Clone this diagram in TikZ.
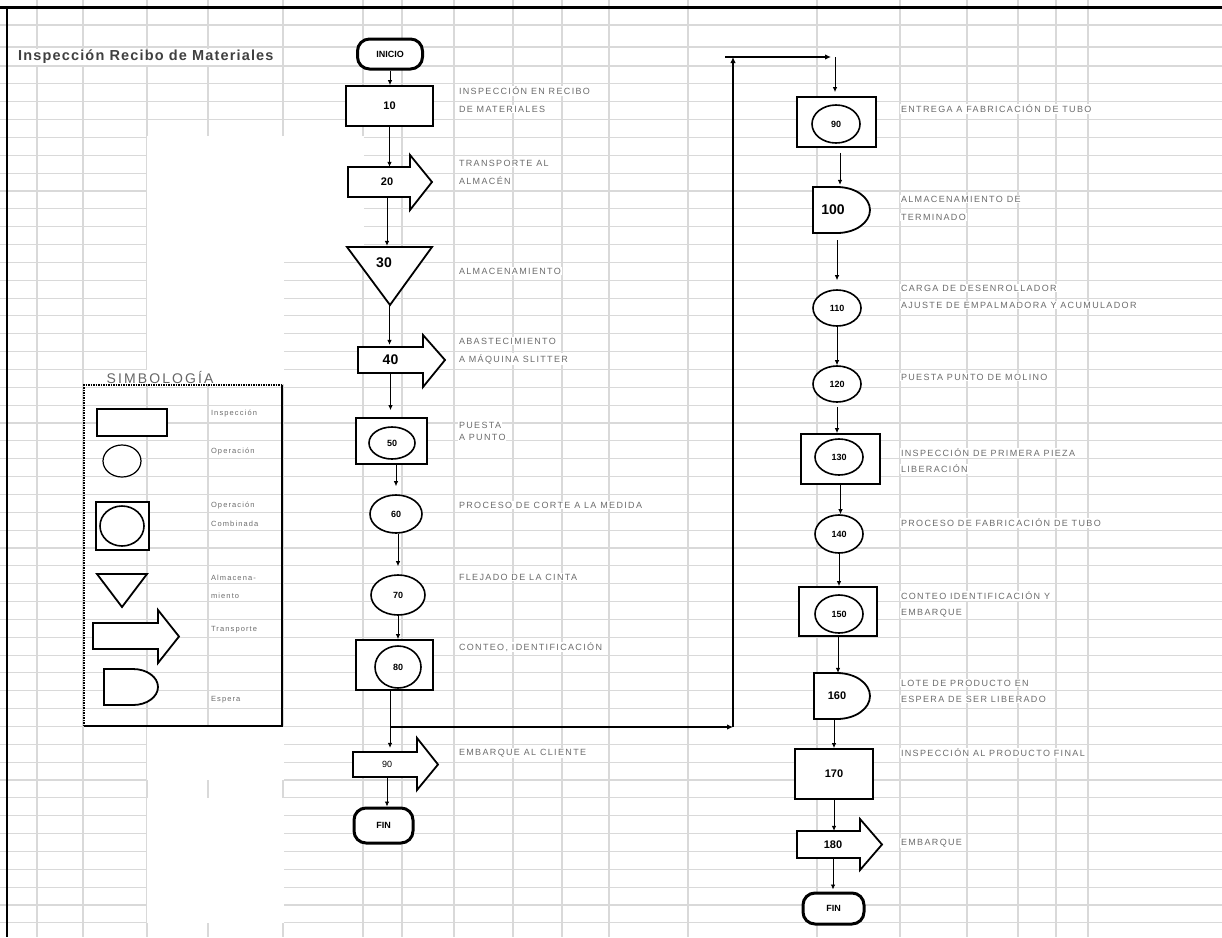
\documentclass[tikz,border=0pt]{standalone}
\usepackage{fontspec}
\setmainfont{Liberation Sans}
\newfontfamily\etiqfont[LetterSpace=15]{Liberation Sans}
\newfontfamily\titfont[LetterSpace=8]{Liberation Sans}
\usetikzlibrary{arrows.meta,shapes.geometric}
\definecolor{gris rejilla}{HTML}{D9D9D9}
\definecolor{gris texto}{HTML}{6C6C6C}
\definecolor{gris titulo}{HTML}{404040}
\begin{document}
\begin{tikzpicture}[x=1pt, y=-1pt,
    linea rejilla/.style={draw=gris rejilla, line width=1.1pt},
    terminal/.style={draw, line width=3pt, fill=white, rounded corners=12pt, inner sep=0pt, font=\bfseries\fontsize{9}{10}\selectfont},
    inspeccion/.style={draw, line width=1.8pt, fill=white, inner sep=0pt},
    operacion/.style={ellipse, draw, line width=1.6pt, fill=white, inner sep=0pt},
    combinada/.style={draw, line width=1.8pt, fill=white, inner sep=0pt},
    contorno/.style={draw, line width=1.8pt, fill=white, line join=miter},
    hueco/.style={inner sep=0pt},
    numg/.style={font=\bfseries\fontsize{14}{15}\selectfont},
    numm/.style={font=\bfseries\fontsize{11}{12}\selectfont},
    nump/.style={font=\bfseries\fontsize{9}{10}\selectfont},
    etiq/.style={anchor=west, fill=white, inner sep=0.8pt, text=gris texto, font=\etiqfont\fontsize{9}{10}\selectfont},
    leyenda/.style={etiq, font=\etiqfont\fontsize{7.5}{8}\selectfont},
    flujo/.style={line width=0.8pt, -{Latex[length=5pt, width=4.5pt]}},
    retorno/.style={line width=2.2pt, -{Latex[length=6pt, width=5.5pt]}},
]
\useasboundingbox (0,0) rectangle (1222,937);
% Rejilla de la hoja
\foreach \cx in {37,83,147,208,283,363,402,454,513,562,609,688,817,900,967,1018,1056,1088}
  \draw[linea rejilla] (\cx,0) -- (\cx,937);
\draw[linea rejilla] (0,25) -- (1222,25) (0,47) -- (1222,47);
\foreach \i in {0,...,48}
  \draw[linea rejilla] (0,66+17.85*\i) -- (1222,66+17.85*\i);
% Zonas sin rejilla
\fill[white] (147.3,136.3) rectangle (363.7,260.5);
\fill[white] (147.3,260) rectangle (283.7,384);
\fill[white] (147.3,726.5) rectangle (283.7,937);
\foreach \cx in {147,208,283}
  \draw[linea rejilla] (\cx,780) -- (\cx,797.8) (\cx,923) -- (\cx,937);
% Borde de la hoja
\draw[line width=3pt] (0,7) -- (1222,7);
\draw[line width=2.5pt] (7,7) -- (7,937);

% Titulo
\node[anchor=west, fill=white, inner sep=1pt, text=gris titulo, font=\titfont\bfseries\fontsize{14.5}{15}\selectfont] (titulo) at (17,57) {Inspección Recibo de Materiales};

% Simbologia
\node[anchor=west, fill=white, inner sep=0.5pt, text=gris titulo!80, font=\etiqfont\fontsize{14}{15}\selectfont] (simb) at (106,377) {SIMBOLOGÍA};
\draw[densely dotted, line width=1.5pt] (84,726) -- (84,385) -- (282,385);
\draw[line width=1.8pt] (282,385) -- (282,726) -- (84,726);
\node[inspeccion, minimum width=70pt, minimum height=27pt] (s1) at (132,422.5) {};
\node[operacion, line width=1.2pt, minimum width=38pt, minimum height=32pt] (s2) at (122,461) {};
\node[combinada, minimum width=53pt, minimum height=48pt] (s3) at (122.5,526) {};
\node[operacion, minimum width=44pt, minimum height=40pt] (s3b) at (122,526) {};
\draw[contorno] (97,574) -- (147,574) -- (122,607) -- cycle;
\draw[contorno] (93,623) -- (158,623) -- (158,610) -- (179,636.5) -- (158,663) -- (158,649) -- (93,649) -- cycle;
\draw[contorno] (104,669) -- (133,669) arc[start angle=-90, end angle=90, x radius=25, y radius=18] -- (104,705) -- cycle;
\node[leyenda] (ls1) at (210,414) {Inspección};
\node[leyenda] (ls2) at (210,452) {Operación};
\node[leyenda] (ls3a) at (210,506) {Operación};
\node[leyenda] (ls3b) at (210,524) {Combinada};
\node[leyenda] (ls4a) at (210,578) {Almacena-};
\node[leyenda] (ls4b) at (210,596) {miento};
\node[leyenda] (ls5) at (210,630) {Transporte};
\node[leyenda] (ls6) at (210,700) {Espera};

% Columna izquierda
\node[terminal, minimum width=65pt, minimum height=30pt] (ini) at (390,54) {INICIO};
\node[inspeccion, numm, minimum width=87pt, minimum height=40pt] (b10) at (389.5,106) {10};
\draw[contorno] (348,167) -- (410,167) -- (410,155) -- (432,182) -- (410,210) -- (410,197) -- (348,197) -- cycle;
\node[hueco, numm, minimum width=52pt, minimum height=30pt] (t20) at (387,182) {20};
\draw[contorno] (347,247) -- (432,247) -- (390,305) -- cycle;
\node[hueco, minimum width=85pt, minimum height=58pt] (a30) at (389.5,276) {};
\node[hueco, numg] (n30) at (384,263) {30};
\draw[contorno] (358,347) -- (423,347) -- (423,335) -- (445,360) -- (423,387) -- (423,373) -- (358,373) -- cycle;
\node[hueco, numg, minimum width=65pt, minimum height=26pt] (t40) at (390.5,360) {40};
\node[combinada, minimum width=71pt, minimum height=46pt] (c50) at (391.5,441) {};
\node[operacion, nump, minimum width=46pt, minimum height=32pt] (o50) at (392,443) {50};
\node[operacion, nump, minimum width=52pt, minimum height=38pt] (o60) at (396,514) {60};
\node[operacion, nump, minimum width=54pt, minimum height=40pt] (o70) at (398,595) {70};
\node[combinada, minimum width=77pt, minimum height=50pt] (c80) at (394.5,665) {};
\node[operacion, nump, minimum width=46pt, minimum height=42pt] (o80) at (398,667) {80};
\draw[contorno] (353,752) -- (417,752) -- (417,738) -- (438,764.5) -- (417,790) -- (417,777) -- (353,777) -- cycle;
\node[hueco, font=\fontsize{9}{10}\selectfont, minimum width=64pt, minimum height=25pt] (t90) at (387,764.5) {90};
\node[terminal, minimum width=59pt, minimum height=35pt] (fin1) at (383.5,825.5) {FIN};

% Conectores columna izquierda
\draw[flujo] (ini.south) -- (ini.south |- b10.north);
\draw[flujo] (b10.south) -- (b10.south |- t20.north);
\draw[flujo, shorten >=1pt] (t20.south) -- (t20.south |- a30.north);
\draw[flujo, shorten >=2pt] (a30.south) -- (a30.south |- t40.north);
\draw[flujo, shorten >=7pt] (t40.south) -- (t40.south |- c50.north);
\draw[flujo, shorten >=8pt] (o60.north |- c50.south) -- (o60.north);
\draw[flujo, shorten >=8pt] (o70.north |- o60.south) -- (o70.north);
\draw[flujo] (o70.south) -- (o70.south |- c80.north);
\coordinate (g1) at (390,727);
\coordinate (g2) at (733,727);
\coordinate (g3) at (733,57);
\coordinate (g4) at (725,57);
\coordinate (g5) at (835,57);
\draw[flujo, shorten >=4pt] (g1 |- c80.south) -- (g1 |- t90.north);
\draw[flujo] (t90.south) -- (t90.south |- fin1.north);
% Retorno hacia la columna derecha
\draw[retorno] (g1) -- (g2);
\draw[retorno] (g2) -- (g3);
\draw[retorno] (g4) -- ([xshift=-4pt]g5);

% Columna derecha
\node[combinada, minimum width=79pt, minimum height=50pt] (c90) at (836.5,122) {};
\node[operacion, nump, minimum width=48pt, minimum height=38pt] (o90) at (836,124) {90};
\draw[contorno] (813,187) -- (837,187) arc[start angle=-90, end angle=90, x radius=33, y radius=23] -- (813,233) -- cycle;
\node[hueco, numg, minimum width=40pt, minimum height=46pt] (e100) at (833,210) {100};
\node[operacion, nump, minimum width=48pt, minimum height=36pt] (o110) at (837,308) {110};
\node[operacion, nump, minimum width=48pt, minimum height=36pt] (o120) at (837,384) {120};
\node[combinada, minimum width=79pt, minimum height=50pt] (c130) at (840.5,459) {};
\node[operacion, nump, minimum width=48pt, minimum height=36pt] (o130) at (839,457) {130};
\node[operacion, nump, minimum width=48pt, minimum height=38pt] (o140) at (839,534) {140};
\node[combinada, minimum width=78pt, minimum height=49pt] (c150) at (838,611.5) {};
\node[operacion, nump, minimum width=48pt, minimum height=38pt] (o150) at (839,614) {150};
\draw[contorno] (814,673) -- (837,673) arc[start angle=-90, end angle=90, x radius=33, y radius=23] -- (814,719) -- cycle;
\node[hueco, numm, minimum width=46pt, minimum height=46pt] (e160) at (837,696) {160};
\node[inspeccion, numm, minimum width=78pt, minimum height=50pt] (b170) at (834,774) {170};
\draw[contorno] (797,831) -- (860,831) -- (860,819) -- (882,844.5) -- (860,870) -- (860,858) -- (797,858) -- cycle;
\node[hueco, numm, minimum width=50pt, minimum height=27pt] (t180) at (833,844.5) {180};
\node[terminal, minimum width=61pt, minimum height=31pt] (fin2) at (833.5,908.5) {FIN};

% Conectores columna derecha
\coordinate (r1) at (840,0);
\draw[flujo, shorten >=4pt] (g5) -- (g5 |- c90.north);
\draw[flujo, shorten <=5pt, shorten >=2pt] (r1 |- c90.south) -- (r1 |- e100.north);
\draw[flujo, shorten <=7pt, shorten >=9pt] (o110.north |- e100.south) -- (o110.north);
\draw[flujo] (o110.south) -- (o110.south |- o120.north);
\draw[flujo, shorten <=4pt] (o120.south) -- (o120.south |- c130.north);
\draw[flujo] (c130.south) -- (c130.south |- o140.north);
\draw[flujo] (o140.south) -- (o140.south |- c150.north);
\draw[flujo] (c150.south) -- (c150.south |- e160.north);
\draw[flujo] (b170.north |- e160.south) -- (b170.north);
\draw[flujo] (b170.south) -- (b170.south |- t180.north);
\draw[flujo, shorten >=2pt] (t180.south) -- (t180.south |- fin2.north);

% Descripciones columna izquierda
\node[etiq] (l10a) at (458,91) {INSPECCIÓN EN RECIBO};
\node[etiq] (l10b) at (458,109) {DE MATERIALES};
\node[etiq] (l20a) at (458,163) {TRANSPORTE AL};
\node[etiq] (l20b) at (458,181) {ALMACÉN};
\node[etiq] (l30) at (458,271) {ALMACENAMIENTO};
\node[etiq] (l40a) at (458,341) {ABASTECIMIENTO};
\node[etiq] (l40b) at (458,359) {A MÁQUINA SLITTER};
\node[etiq] (l50a) at (458,425) {PUESTA};
\node[etiq] (l50b) at (458,437) {A PUNTO};
\node[etiq] (l60) at (458,505) {PROCESO DE CORTE A LA MEDIDA};
\node[etiq] (l70) at (458,577) {FLEJADO DE LA CINTA};
\node[etiq] (l80) at (458,647) {CONTEO, IDENTIFICACIÓN};
\node[etiq] (l90) at (458,753) {EMBARQUE AL CLIENTE};

% Descripciones columna derecha
\node[etiq] (r90) at (900,109) {ENTREGA A FABRICACIÓN DE TUBO};
\node[etiq] (r100a) at (900,199) {ALMACENAMIENTO DE};
\node[etiq] (r100b) at (900,217) {TERMINADO};
\node[etiq] (r110a) at (900,288) {CARGA DE DESENROLLADOR};
\node[etiq] (r110b) at (900,305) {AJUSTE DE EMPALMADORA Y ACUMULADOR};
\node[etiq] (r120) at (900,377) {PUESTA PUNTO DE MOLINO};
\node[etiq] (r130a) at (900,453) {INSPECCIÓN DE PRIMERA PIEZA};
\node[etiq] (r130b) at (900,469) {LIBERACIÓN};
\node[etiq] (r140) at (900,523) {PROCESO DE FABRICACIÓN DE TUBO};
\node[etiq] (r150a) at (900,596) {CONTEO IDENTIFICACIÓN Y};
\node[etiq] (r150b) at (900,613) {EMBARQUE};
\node[etiq] (r160a) at (900,683) {LOTE DE PRODUCTO EN};
\node[etiq] (r160b) at (900,699) {ESPERA DE SER LIBERADO};
\node[etiq] (r170) at (900,753) {INSPECCIÓN AL PRODUCTO FINAL};
\node[etiq] (r180) at (900,843) {EMBARQUE};
\end{tikzpicture}
\end{document}
